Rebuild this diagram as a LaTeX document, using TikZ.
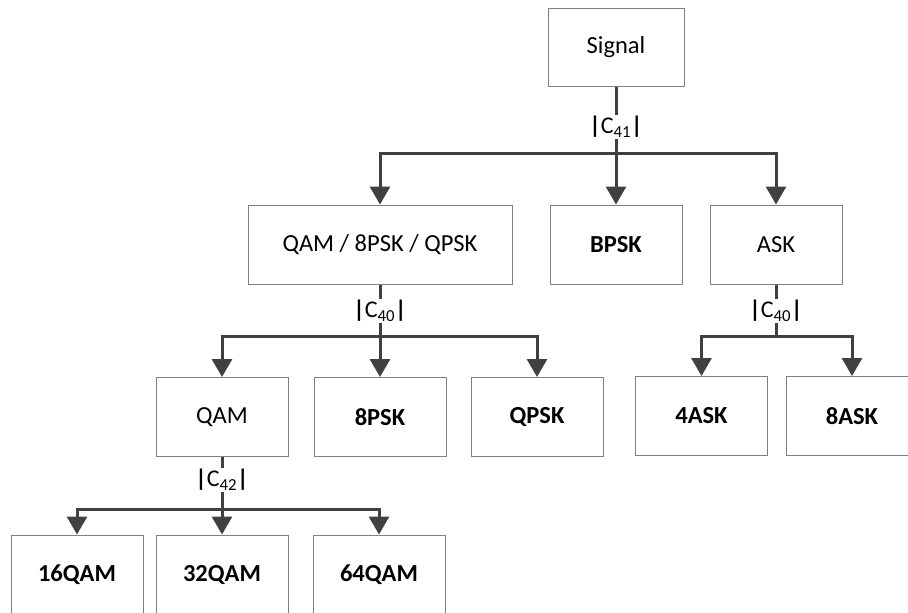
\documentclass[tikz,border=0pt]{standalone}
\usepackage{fontspec}
\setmainfont{Carlito}
\usetikzlibrary{arrows.meta}
\definecolor{linegray}{HTML}{404040}
\definecolor{boxgray}{HTML}{808080}
\begin{document}
\begin{tikzpicture}[x=1pt,y=-1pt,
  box/.style={draw=boxgray, line width=1pt, minimum width=132pt, minimum height=79pt, inner sep=0pt, font=\fontsize{24.5}{28}\selectfont, text=black},
  bigbox/.style={box, minimum width=264pt},
  conn/.style={draw=linegray, line width=3pt, -{Triangle[width=20pt,length=18pt]}},
  lab/.style={fill=white, inner sep=1.5pt, font=\fontsize{24}{28}\selectfont, text=black}]
\useasboundingbox (0,0) rectangle (908,613);
\clip (0,0) rectangle (908,613);
% nodes
\node[box, minimum width=136pt, minimum height=78pt] (sig) at (616,47) {Signal};
\node[bigbox] (mix) at (380,244.5) {QAM / 8PSK / QPSK};
\node[box] (bpsk) at (616,244.5) {\textbf{BPSK}};
\node[box] (ask) at (776,244.5) {ASK};
\node[box] (qam) at (222,417) {QAM};
\node[box] (epsk) at (380,417) {\textbf{8PSK}};
\node[box] (qpsk) at (537,417) {\textbf{QPSK}};
\node[box] (fask) at (701.5,416) {\textbf{4ASK}};
\node[box] (eask) at (852,416) {\textbf{8ASK}};
\node[box] (q16) at (77,574.5) {\textbf{16QAM}};
\node[box] (q32) at (222,574.5) {\textbf{32QAM}};
\node[box] (q64) at (379,574.5) {\textbf{64QAM}};
% bar levels
\coordinate (b1) at (0,153);
\coordinate (b2) at (0,336);
\coordinate (b3) at (0,509);
% connectors
\foreach \c in {mix,bpsk,ask} \draw[conn] (sig.south) -- (sig.south |- b1) -| (\c.north);
\foreach \c in {qam,epsk,qpsk} \draw[conn] (mix.south) -- (mix.south |- b2) -| (\c.north);
\foreach \c in {fask,eask} \draw[conn] (ask.south) -- (ask.south |- b2) -| (\c.north);
\foreach \c in {q16,q32,q64} \draw[conn] (qam.south) -- (qam.south |- b3) -| (\c.north);
% labels
\node[lab] (l1) at (616,127) {\textbf{|}C\textsubscript{41}\textbf{|}};
\node[lab] (l2) at (380,311) {\textbf{|}C\textsubscript{40}\textbf{|}};
\node[lab] (l3) at (776,311) {\textbf{|}C\textsubscript{40}\textbf{|}};
\node[lab] (l4) at (222,480) {\textbf{|}C\textsubscript{42}\textbf{|}};
\end{tikzpicture}
\end{document}
